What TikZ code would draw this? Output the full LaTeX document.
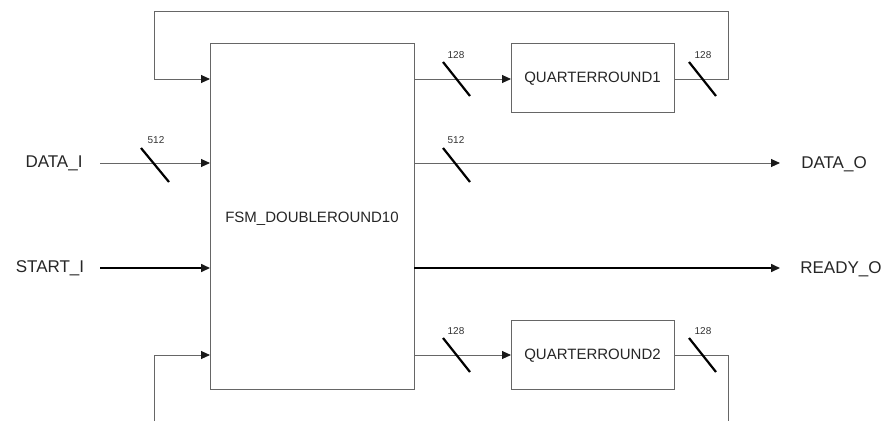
\documentclass[tikz,border=0pt]{standalone}
\usepackage{fontspec}
\setmainfont{Liberation Sans}
\usetikzlibrary{arrows.meta}
\begin{document}
\begin{tikzpicture}[x=1pt,y=-1pt,
  wire/.style={draw=black!60,line width=0.9pt},
  bold/.style={draw=black,line width=1.6pt},
  arr/.style={-{Triangle[length=9pt,width=8pt,color=black!90]}},
  box/.style={draw=black!60,line width=0.9pt,rectangle,inner sep=0pt},
  bus/.style={draw=black,line width=2.2pt},
  buslbl/.style={font=\fontsize{10}{11}\selectfont,inner sep=0pt,text=black!80},
  inlbl/.style={font=\fontsize{15}{17}\selectfont,inner sep=0pt,text=black!85},
  outlbl/.style={font=\fontsize{17}{19}\selectfont,inner sep=0pt,text=black!85}]
\useasboundingbox (0,0) rectangle (886,421);
\fill[white] (0,0) rectangle (886,421);
% blocks
\node[box,minimum width=204pt,minimum height=346pt] (main) at (312,216) {};
\node[inlbl] (mainlbl) at (312,219) {FSM\_DOUBLEROUND10};
\node[box,minimum width=163pt,minimum height=69pt] (qr1) at (592.5,77.5) {};
\node[inlbl] (qr1lbl) at (592.5,79) {QUARTERROUND1};
\node[box,minimum width=163pt,minimum height=69pt] (qr2) at (592.5,354.5) {};
\node[inlbl] (qr2lbl) at (592.5,356) {QUARTERROUND2};
% io labels
\node[outlbl] (datai) at (54,163) {DATA\_I};
\node[outlbl] (starti) at (50,268) {START\_I};
\node[outlbl] (datao) at (834,164) {DATA\_O};
\node[outlbl] (readyo) at (841,269) {READY\_O};
% coordinates
\coordinate (mA) at (210,79);
\coordinate (mD) at (210,163);
\coordinate (mS) at (210,268);
\coordinate (mB) at (210,355);
\coordinate (oA) at (414,79);
\coordinate (oD) at (414,163);
\coordinate (oS) at (414,268);
\coordinate (oB) at (414,355);
\coordinate (q1in) at (511,79);
\coordinate (q1out) at (674,79);
\coordinate (q2in) at (511,355);
\coordinate (q2out) at (674,355);
\coordinate (diS) at (100,163);
\coordinate (siS) at (100,268);
\coordinate (doE) at (780,163);
\coordinate (roE) at (780,268);
\coordinate (tR) at (728,11);
\coordinate (tL) at (154,11);
\coordinate (bR) at (728,421);
\coordinate (bL) at (154,421);
% connectors
\draw[wire,arr] (diS) -- (mD);
\draw[bold,arr] (siS) -- (mS);
\draw[wire,arr] (oD) -- (doE);
\draw[bold,arr] (oS) -- (roE);
\draw[wire,arr] (oA) -- (q1in);
\draw[wire,arr] (oB) -- (q2in);
\draw[wire,arr] (q1out) -- (tR |- q1out) -- (tR) -- (tL) -- (tL |- mA) -- (mA);
\draw[wire] (q2out) -- (bR |- q2out) -- (bR);
\draw[wire,arr] (bL) -- (bL |- mB) -- (mB);
% bus slashes
\draw[bus] (141,148) -- (169,182);
\node[buslbl] (b1) at (156,140) {512};
\draw[bus] (443,148) -- (470,182);
\node[buslbl] (b2) at (456,140) {512};
\draw[bus] (443,62) -- (470,96);
\node[buslbl] (b3) at (456,55) {128};
\draw[bus] (689,62) -- (716,96);
\node[buslbl] (b4) at (703,55) {128};
\draw[bus] (443,338) -- (470,372);
\node[buslbl] (b5) at (456,331) {128};
\draw[bus] (689,338) -- (716,372);
\node[buslbl] (b6) at (703,331) {128};
\end{tikzpicture}
\end{document}
